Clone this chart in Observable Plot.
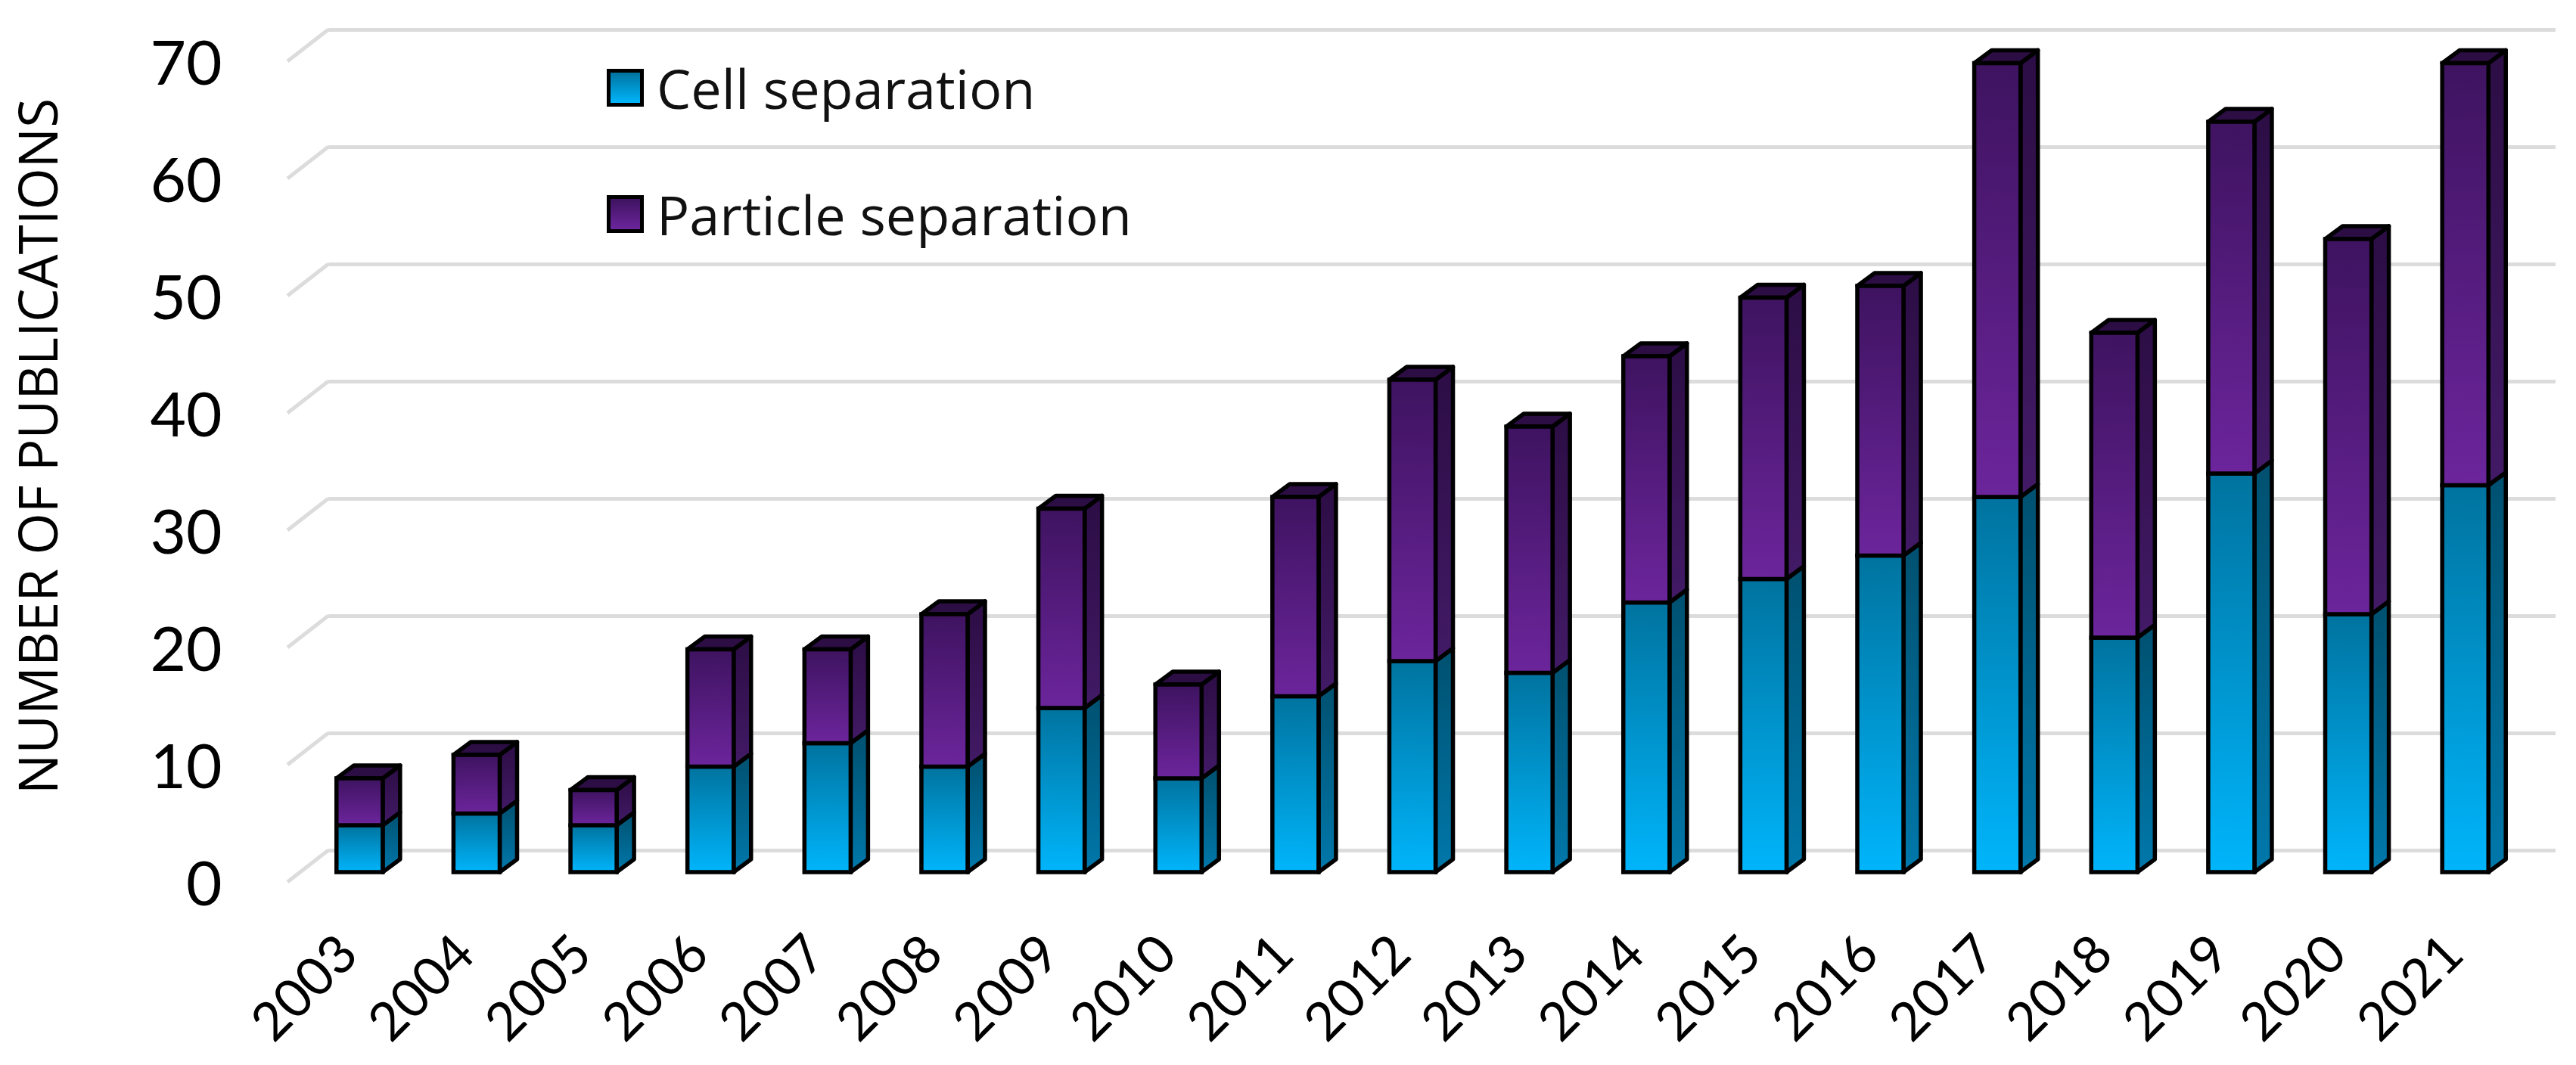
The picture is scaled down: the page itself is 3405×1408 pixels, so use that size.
<!DOCTYPE html>
<html><head><meta charset="utf-8">
<script src="https://cdn.jsdelivr.net/npm/d3@7"></script>
<script src="https://cdn.jsdelivr.net/npm/@observablehq/plot@0.6"></script>
<style>
html,body{margin:0;padding:0;background:#fff;width:3405px;height:1408px;overflow:hidden}
#wrap{position:relative;width:3405px;height:1408px;filter:blur(.7px)}
#wrap svg.chart{display:block}
.lg{position:absolute;left:802px;display:flex;align-items:center;font:72px "Open Sans",sans-serif;color:#111}
.lg i{display:block;width:49px;height:50px;box-sizing:border-box;border:5px solid #000;margin-right:17px}
</style></head><body>
<svg width="0" height="0" style="position:absolute"><defs>
<linearGradient id="cellFront" x1="0" y1="0" x2="0" y2="1"><stop offset="0" stop-color="#00739f"/><stop offset="1" stop-color="#00b5fb"/></linearGradient>
<linearGradient id="cellSide" x1="0" y1="0" x2="0" y2="1"><stop offset="0" stop-color="#00506f"/><stop offset="1" stop-color="#0078ab"/></linearGradient>
<linearGradient id="partFront" x1="0" y1="0" x2="0" y2="1"><stop offset="0" stop-color="#3e1360"/><stop offset="1" stop-color="#6c259c"/></linearGradient>
<linearGradient id="partSide" x1="0" y1="0" x2="0" y2="1"><stop offset="0" stop-color="#2c0d44"/><stop offset="1" stop-color="#421a66"/></linearGradient>
</defs></svg>
<div id="wrap"></div>
<script>
const years = [2003,2004,2005,2006,2007,2008,2009,2010,2011,2012,2013,2014,2015,2016,2017,2018,2019,2020,2021];
const cell = [4,5,4,9,11,9,14,8,15,18,17,23,25,27,32,20,34,22,33];
const particle = [4,5,3,10,8,13,17,8,17,24,21,21,24,23,37,26,30,32,36];
const yTicks = [0,10,20,30,40,50,60,70];
const series = ["Cell separation","Particle separation"];
const yTitle = "NUMBER OF PUBLICATIONS";

const rows = years.flatMap((year,i)=>[
  {year, s:series[0], y1:0, y2:cell[i], front:"url(#cellFront)", side:"url(#cellSide)"},
  {year, s:series[1], y1:cell[i], y2:cell[i]+particle[i], front:"url(#partFront)", side:"url(#partSide)"}
]);
const depthX = 23, depthY = 17, backX = 36, backY = -29, wallX = 54, wallY = 42;
const grid = "#dcdcdc";
const edge = 5.5;

const faces = (index, {x, y}) => {
  const g = d3.create("svg:g").attr("stroke","#000").attr("stroke-width",edge).attr("stroke-linejoin","round");
  const bw = x.bandwidth();
  for (const r of rows) {
    const l = x(r.year), R = l+bw, t = y(r.y2), b = y(r.y1);
    g.append("polygon").attr("points",[[R,t],[R+depthX,t-depthY],[R+depthX,b-depthY],[R,b]].join(" ")).attr("fill",r.side);
    if (r.s===series[1]) g.append("polygon").attr("points",[[l,t],[l+depthX,t-depthY],[R+depthX,t-depthY],[R,t]].join(" ")).attr("fill","#2c0d44");
  }
  return g.node();
};
const walls = (index, {y}, values, {marginLeft}) => {
  const g = d3.create("svg:g").attr("stroke",grid).attr("stroke-width",5).attr("fill","none");
  for (const v of yTicks) {
    const by = y(v)+backY, bx = marginLeft+backX;
    g.append("line").attr("x1",bx).attr("y1",by).attr("x2",bx-wallX).attr("y2",by+wallY);
  }
  return g.node();
};

const chart = Plot.plot({
  width:3405, height:1408,
  marginLeft:398, marginRight:69, marginTop:68, marginBottom:255,
  style:{background:"#fff", fontFamily:"Lato, sans-serif", color:"#000"},
  x:{type:"band", domain:years, range:[398,3336], paddingInner:.605, paddingOuter:.3025, round:false, label:null},
  y:{domain:[0,70], range:[1153,68], label:null},
  marks:[
    Plot.ruleY(yTicks,{stroke:grid, strokeWidth:5, dy:backY, dx:backX, insetRight:-6}),
    walls,
    faces,
    Plot.rectY(rows,{x:"year", y1:"y1", y2:"y2", fill:"front", stroke:"#000", strokeWidth:edge}),
    Plot.axisY({ticks:yTicks, tickSize:0, tickPadding:0, dx:-105, dy:17, fontSize:82, label:null, tickFormat:d=>String(d)}),
    Plot.axisX({tickSize:0, tickPadding:0, tickRotate:-45, fontSize:70, dx:-15, dy:96, label:null, tickFormat:d=>String(d)}),
    Plot.text([yTitle],{frameAnchor:"left", textAnchor:"middle", rotate:-90, fontSize:71, dx:-345, dy:-21, fontFamily:"Open Sans, sans-serif"})
  ]
});
chart.classList.add("chart");
const wrap = document.getElementById("wrap");
wrap.append(chart);
series.forEach((s,i)=>{
  const d = document.createElement("div");
  d.className="lg"; d.style.top=(i?258:91)+"px"; d.style.height="50px";
  const sw=document.createElement("i");
  sw.style.background = i? "linear-gradient(#3e1360,#6c259c)":"linear-gradient(#00739f,#00b5fb)";
  const t=document.createElement("span"); t.textContent=s;
  d.append(sw,t); wrap.append(d);
});
</script></body></html>
